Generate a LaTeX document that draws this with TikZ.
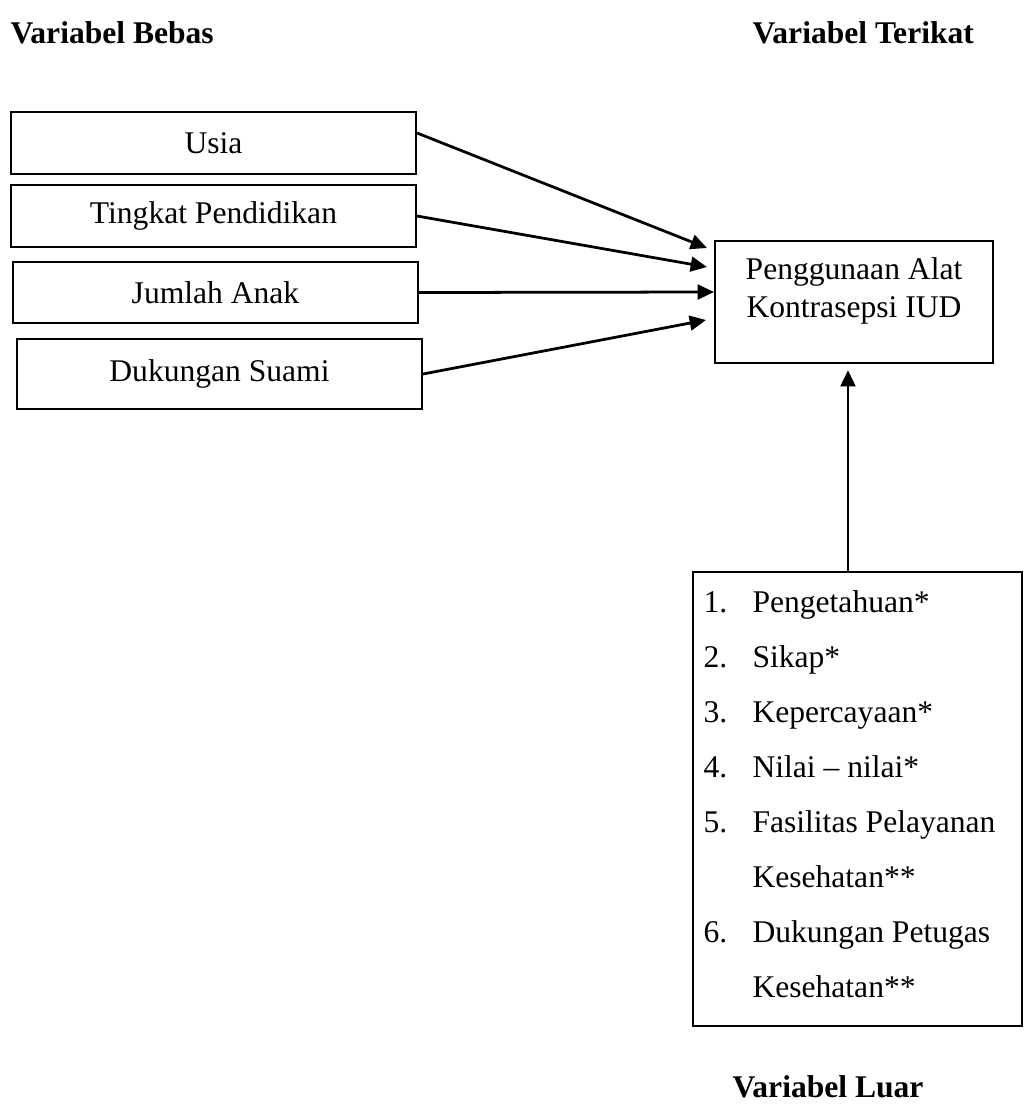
\documentclass[tikz,border=0pt]{standalone}
\usepackage{fontspec}
\setmainfont{Liberation Serif}
\usetikzlibrary{arrows.meta,calc}

\tikzset{
  varbox/.style={draw, line width=0.8pt, rectangle, inner sep=0pt, minimum width=153.9pt, align=center},
  heading/.style={font=\fontsize{12}{14.4}\selectfont\bfseries, anchor=base west, inner sep=0pt},
  listline/.style={anchor=base west, inner sep=0pt},
  link/.style={line width=1.05pt, -{Triangle[length=6.2pt,width=5.6pt]}},
}

\begin{document}
\begin{tikzpicture}[x=0.38pt, y=-0.38pt, font=\fontsize{12}{14.4}\selectfont]
  \useasboundingbox (0,0) rectangle (1024,1104);

  \node[heading] (bebas) at (10,43) {Variabel Bebas};
  \node[heading] (terikat) at (752,43) {Variabel Terikat};

  \node[varbox, minimum height=23.56pt] (usia) at (213.5,143) {Usia};
  \node[varbox, minimum height=23.56pt] (tingkat) at (213.5,216) {Tingkat Pendidikan};
  \node[varbox, minimum height=23.18pt] (jumlah) at (215.5,292.5) {Jumlah Anak};
  \node[varbox, minimum height=26.6pt] (dukungan) at (219.5,374) {Dukungan Suami};

  \node[draw, line width=0.8pt, minimum width=105.6pt, minimum height=46.4pt, inner sep=0pt] (iud) at (854,302) {};
  \node[align=center, inner sep=0pt] (iudtext) at (854,291) {Penggunaan Alat\\Kontrasepsi IUD};

  \node[draw, line width=0.8pt, minimum width=125pt, minimum height=172.5pt, inner sep=0pt] (luar) at (857.5,799) {};
  \foreach \num/\txt [count=\k from 0] in {1./Pengetahuan*, 2./Sikap*, 3./Kepercayaan*,
      4./Nilai – nilai*, 5./Fasilitas Pelayanan, {}/Kesehatan**, 6./Dukungan Petugas, {}/Kesehatan**} {
    \node[listline] (num\k) at (703,612+55*\k) {\num};
    \node[listline] (txt\k) at (752,612+55*\k) {\txt};
  }
  \node[heading] (luartitle) at (732,1097) {Variabel Luar};

  \draw[link] ($(usia.east)+(0,-10)$) -- ($(iud.west)+(-7,-54)$);
  \draw[link] (tingkat.east) -- ($(iud.west)+(-7,-35)$);
  \draw[link] (jumlah.east) -- ($(iud.west)+(0,-10)$);
  \draw[link] (dukungan.east) -- ($(iud.west)+(-8,18)$);

  \coordinate (tip) at ($(iud.south)+(-6,6)$);
  \draw[link] (luar.north -| tip) -- (tip);
\end{tikzpicture}
\end{document}
